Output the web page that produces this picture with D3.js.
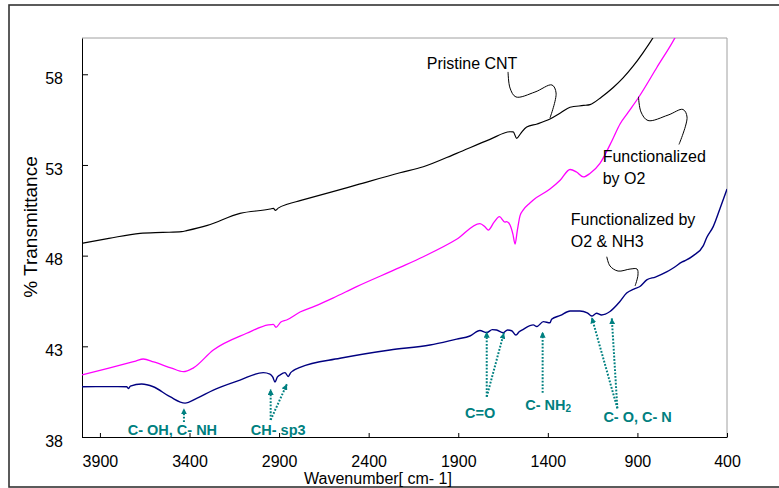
<!DOCTYPE html>
<html>
<head>
<meta charset="utf-8">
<script src="https://cdn.jsdelivr.net/npm/d3@7"></script>
<style>
    body { margin: 0; background: #fff; }
    svg { display: block; font-family: "Liberation Sans", Arial, sans-serif; }
</style>
</head>
<body>
<div id="view"></div>
<script>
// spectra, [wavenumber, % transmittance]
var pristineCNT = [
    [4000, 48.68], [3850, 48.95], [3676, 49.23], [3550, 49.28], [3444, 49.32], [3416, 49.38],
    [3300, 49.67], [3118, 50.33], [2950, 50.57], [2932, 50.61], [2920, 50.5], [2905, 50.62],
    [2850, 50.85], [2783, 51.03], [2600, 51.53], [2467, 51.9], [2225, 52.57], [2095, 52.9],
    [1909, 53.64], [1723, 54.41], [1611, 54.83], [1593, 54.82], [1574, 54.47], [1550, 54.76],
    [1518, 55.09], [1460, 55.26], [1388, 55.53], [1330, 55.86], [1276, 56.18], [1200, 56.28],
    [1165, 56.33], [1100, 56.75], [1035, 57.27], [980, 57.8], [923, 58.46], [870, 59.17],
    [812, 60.03], [790, 60.4],
];
var functionalizedO2 = [
    [4000, 41.42], [3850, 41.8], [3700, 42.19], [3658, 42.3], [3600, 42.14], [3500, 41.8],
    [3434, 41.6], [3380, 41.8], [3267, 42.8], [3081, 43.72], [2960, 44.18], [2932, 44.21],
    [2917, 44.05], [2890, 44.34], [2858, 44.45], [2783, 44.89], [2700, 45.22], [2600, 45.66],
    [2467, 46.29], [2225, 47.35], [2095, 47.94], [1909, 48.9], [1779, 49.77], [1750, 49.58],
    [1732, 49.41], [1700, 49.85], [1670, 50.15], [1640, 49.85], [1630, 49.88], [1611, 49.69],
    [1595, 49.19], [1583, 48.64], [1570, 49.41], [1555, 50.21], [1537, 50.52], [1500, 50.9],
    [1481, 51.07], [1388, 51.67], [1330, 52.17], [1276, 52.75], [1240, 52.61], [1202, 52.34],
    [1165, 52.53], [1109, 53.09], [1040, 54.38], [997, 55.26], [950, 55.92], [891, 56.76],
    [790, 58.4], [690, 60.02], [670, 60.4],
];
var functionalizedO2NH3 = [
    [4000, 40.77], [3800, 40.78], [3751, 40.77], [3740, 40.67], [3730, 40.81], [3667, 40.92],
    [3602, 40.77], [3509, 40.22], [3425, 39.87], [3360, 40.13], [3267, 40.59], [3118, 41.14],
    [2988, 41.55], [2951, 41.47], [2935, 41.3], [2923, 41.03], [2910, 41.3], [2895, 41.42],
    [2867, 41.55], [2849, 41.34], [2835, 41.55], [2821, 41.66], [2783, 41.84], [2560, 42.34],
    [2281, 42.8], [2058, 43.07], [1909, 43.4], [1835, 43.57], [1779, 43.87], [1741, 43.76],
    [1710, 43.92], [1686, 43.9], [1649, 43.75], [1625, 43.9], [1602, 43.86], [1578, 43.62],
    [1560, 43.8], [1537, 43.94], [1481, 44.18], [1462, 44.09], [1425, 44.36], [1388, 44.3],
    [1379, 44.49], [1330, 44.7], [1276, 44.95], [1221, 44.95], [1180, 44.85], [1155, 44.67],
    [1128, 44.82], [1100, 44.73], [1053, 44.92], [1000, 45.44], [960, 45.94], [920, 46.16],
    [886, 46.3], [848, 46.66], [800, 46.82], [737, 47.1], [700, 47.32], [650, 47.65],
    [626, 47.76], [588, 48.0], [532, 48.55], [513, 49.0], [477, 49.6], [439, 50.6], [400, 51.67],
];

var xTicks = [3900, 3400, 2900, 2400, 1900, 1400, 900, 400];
var yTicks = [38, 43, 48, 53, 58];

// curve names with their callouts (wavenumber, transmittance)
var seriesLabels = [
    { lines: ['Pristine CNT'], at: [2076, 58.6] },
    { lines: ['Functionalized', 'by O2'], at: [1094, 53.46] },
    { lines: ['Functionalized by', 'O2 & NH3'], at: [1272, 49.97] },
];
var callouts = [
    [[1622, 58.13], [1611, 57.24], [1578, 56.75], [1472, 57.02], [1377, 57.41], [1354, 56.97], [1388, 55.59]],
    [[894, 56.76], [880, 55.92], [841, 55.45], [729, 55.75], [646, 56.06], [623, 55.64], [668, 54.13]],
    [[1071, 47.94], [1053, 47.43], [1008, 47.15], [941, 47.26], [902, 47.26], [897, 46.93], [913, 46.33]],
];

// band assignments
var bandArrows = [
    [[3431, 38.83], [3431, 39.58]],
    [[2947, 38.94], [2947, 40.65]],
    [[2947, 38.94], [2856, 40.92]],
    [[1741, 40.22], [1741, 43.81]],
    [[1741, 40.22], [1645, 43.75]],
    [[1429, 40.44], [1429, 43.81]],
    [[1012, 39.58], [1155, 44.6]],
    [[1012, 39.58], [1043, 44.55]],
];
var bandLabels = [
    { text: 'C- OH, C- NH', sub: '', at: [3745, 38.36] },
    { text: 'CH- sp3', sub: '', at: [3058, 38.39] },
    { text: 'C=O', sub: '', at: [1862, 39.31] },
    { text: 'C- NH', sub: '2', at: [1526, 39.76] },
    { text: 'C- O, C- N', sub: '', at: [1090, 39.12] },
];

var WIDTH = 779;
var HEIGHT = 488;
var TEAL = '#008080';
var plot = { left: 82, top: 38, right: 727, bottom: 437 };

var svg = d3.select('#view').append('svg')
    .attr('width', WIDTH)
    .attr('height', HEIGHT);

var x = d3.scaleLinear().domain([4000, 400]).range([plot.left, plot.right]);
var y = d3.scaleLinear().domain([38, 60]).range([plot.bottom, plot.top]);

// outer frame, its right edge runs off the picture
svg.append('rect')
    .attr('x', 9).attr('y', 5)
    .attr('width', WIDTH + 20).attr('height', 482)
    .attr('fill', 'none')
    .attr('stroke', '#333')
    .attr('stroke-width', 1.6);

var defs = svg.append('defs');
defs.append('clipPath').attr('id', 'clip')
    .append('rect')
    .attr('x', plot.left).attr('y', plot.top)
    .attr('width', plot.right - plot.left)
    .attr('height', plot.bottom - plot.top);
defs.append('marker')
    .attr('id', 'tip')
    .attr('viewBox', '0 0 10 10')
    .attr('refX', 10).attr('refY', 5)
    .attr('markerWidth', 6).attr('markerHeight', 6)
    .attr('markerUnits', 'userSpaceOnUse')
    .attr('orient', 'auto')
    .append('path')
    .attr('d', 'M0,0L10,5L0,10z')
    .attr('fill', TEAL);

// grey top and right border of the plot area
svg.append('path')
    .attr('d', `M${plot.left},${plot.top}H${plot.right}V${plot.bottom}`)
    .attr('fill', 'none')
    .attr('stroke', '#a0a0a0')
    .attr('stroke-width', 1);

var xAxis = svg.append('g')
    .attr('transform', `translate(0, ${plot.bottom})`)
    .call(d3.axisBottom(x).tickValues(xTicks).tickFormat(d3.format('d'))
        .tickSizeInner(-4).tickSizeOuter(0).tickPadding(19));
var yAxis = svg.append('g')
    .attr('transform', `translate(${plot.left}, 0)`)
    .call(d3.axisLeft(y).tickValues(yTicks).tickFormat(d3.format('d'))
        .tickSizeInner(-6).tickSizeOuter(0).tickPadding(19));
[xAxis, yAxis].forEach(g => {
    g.attr('font-family', null).attr('font-size', 16);
    g.selectAll('path, line').attr('stroke', '#000');
    g.selectAll('text').attr('fill', '#000');
});
yAxis.selectAll('text').attr('y', 4);

svg.append('text')
    .attr('x', 378).attr('y', 478)
    .attr('text-anchor', 'middle')
    .attr('dominant-baseline', 'central')
    .attr('font-size', 16)
    .text('Wavenumber[ cm- 1]');
svg.append('text')
    .attr('transform', 'translate(30, 227) rotate(-90)')
    .attr('text-anchor', 'middle')
    .attr('dominant-baseline', 'central')
    .attr('font-size', 19)
    .text('% Transmittance');

var series = [
    { values: pristineCNT, color: '#000000', width: 1.2 },
    { values: functionalizedO2, color: '#ff00ff', width: 1.3 },
    { values: functionalizedO2NH3, color: '#000080', width: 1.4 },
];
var spectrum = d3.line()
    .x(d => x(d[0]))
    .y(d => y(d[1]))
    .curve(d3.curveMonotoneX);
svg.append('g')
    .attr('clip-path', 'url(#clip)')
    .selectAll('path')
    .data(series)
    .enter()
    .append('path')
    .attr('d', d => spectrum(d.values.slice().reverse()))
    .attr('fill', 'none')
    .attr('stroke', d => d.color)
    .attr('stroke-width', d => d.width);

// callouts
var calloutLine = d3.line()
    .x(d => x(d[0]))
    .y(d => y(d[1]))
    .curve(d3.curveCatmullRom);
svg.append('g')
    .selectAll('path')
    .data(callouts)
    .enter()
    .append('path')
    .attr('d', calloutLine)
    .attr('fill', 'none')
    .attr('stroke', '#000')
    .attr('stroke-width', 1);

svg.append('g')
    .selectAll('text')
    .data(seriesLabels)
    .enter()
    .append('text')
    .attr('font-size', 16)
    .attr('fill', '#000')
    .each(function(d) {
        d3.select(this).selectAll('tspan')
            .data(d.lines)
            .enter()
            .append('tspan')
            .attr('x', x(d.at[0]))
            .attr('y', (l, i) => y(d.at[1]) + i * 21.5)
            .attr('dominant-baseline', 'central')
            .text(l => l);
    });

// band arrows and labels
svg.append('g')
    .selectAll('line')
    .data(bandArrows)
    .enter()
    .append('line')
    .attr('x1', d => x(d[0][0]))
    .attr('y1', d => y(d[0][1]))
    .attr('x2', d => x(d[1][0]))
    .attr('y2', d => y(d[1][1]))
    .attr('stroke', TEAL)
    .attr('stroke-width', 2)
    .attr('stroke-dasharray', '1.8,1.6')
    .attr('marker-end', 'url(#tip)');

var bandText = svg.append('g')
    .selectAll('text')
    .data(bandLabels)
    .enter()
    .append('text')
    .attr('x', d => x(d.at[0]))
    .attr('y', d => y(d.at[1]))
    .attr('dominant-baseline', 'central')
    .attr('font-size', 14.5)
    .attr('font-weight', 'bold')
    .attr('fill', TEAL)
    .text(d => d.text);
bandText.filter(d => d.sub)
    .append('tspan')
    .attr('font-size', 10)
    .attr('dy', 3)
    .text(d => d.sub);
</script>
</body>
</html>
